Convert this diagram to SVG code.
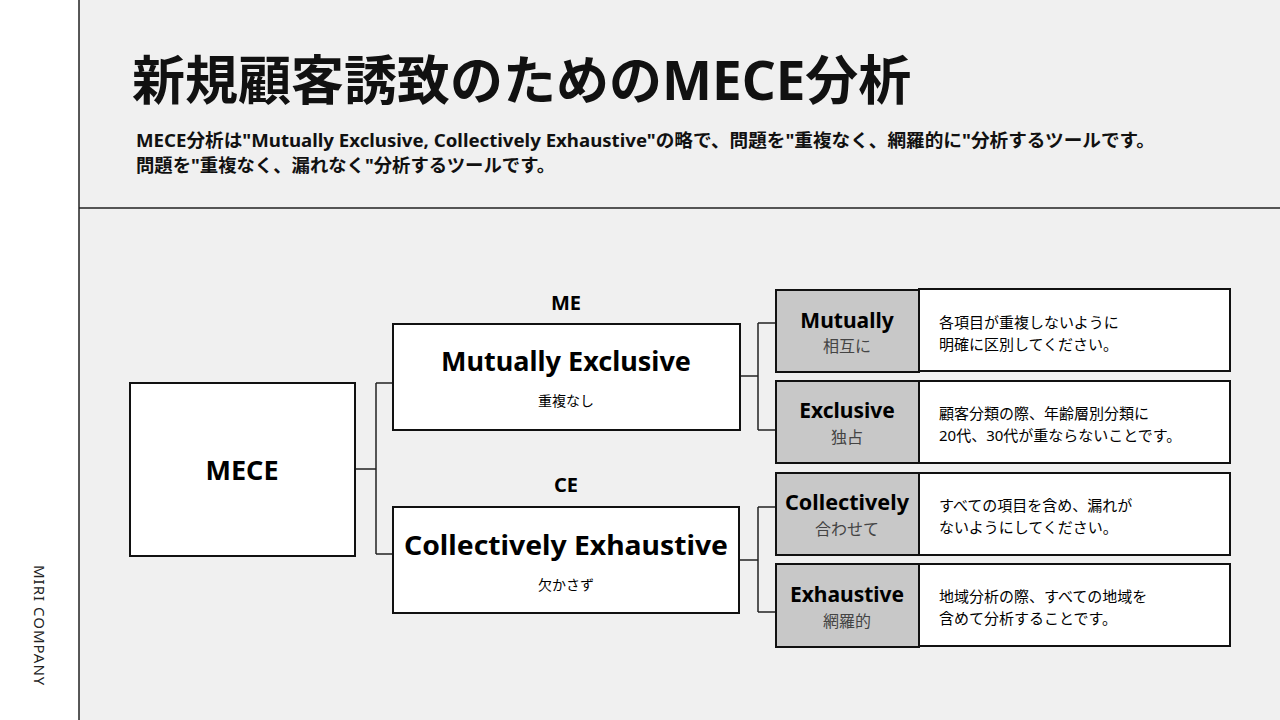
<svg xmlns="http://www.w3.org/2000/svg" width="1280" height="720" viewBox="0 0 1280 720">
<style>
.j{font-family:"Noto Sans","Noto Sans CJK JP",sans-serif}
.b{font-weight:700}
.box{fill:#fff;stroke:#111;stroke-width:2}
.g{fill:#c8c8c8;stroke:#111;stroke-width:2}
.c{fill:none;stroke:#222;stroke-width:1.5}
</style>
<rect width="1280" height="720" fill="#f0f0f0"/>
<rect width="79" height="720" fill="#fff"/>
<line x1="79" y1="0" x2="79" y2="720" stroke="#222" stroke-width="1.5"/>
<line x1="79" y1="208" x2="1280" y2="208" stroke="#222" stroke-width="1.5"/>
<text class="j" transform="translate(34,565) rotate(90)" font-size="15" fill="#222" letter-spacing="1">MIRI COMPANY</text>
<text class="j b" x="132" y="100" font-size="53" fill="#111">新規顧客誘致のためのMECE分析</text>
<text class="j b" x="136" y="147" font-size="18.3" fill="#111" textLength="1019" lengthAdjust="spacingAndGlyphs">MECE分析は"Mutually Exclusive, Collectively Exhaustive"の略で、問題を"重複なく、網羅的に"分析するツールです。</text>
<text class="j b" x="136" y="172" font-size="18.3" fill="#111" textLength="419" lengthAdjust="spacingAndGlyphs">問題を"重複なく、漏れなく"分析するツールです。</text>
<g id="connectors">
<path class="c" d="M355,469H376M376,383V554M376,383H392M376,554H392"/>
<path class="c" d="M740,376H758M758,323V430M758,323H776M758,430H776"/>
<path class="c" d="M739,560H758M758,507V612M758,507H776M758,612H776"/>
</g>
<g id="mece"><rect class="box" x="130" y="383" width="225" height="173"/>
<text class="j b" x="242" y="480" font-size="27" text-anchor="middle">MECE</text></g>
<g id="me"><text class="j b" x="566" y="310" font-size="20" text-anchor="middle">ME</text>
<rect class="box" x="393" y="324" width="347" height="106"/>
<text class="j b" x="566" y="371" font-size="27" text-anchor="middle">Mutually Exclusive</text>
<text class="j" x="566" y="406" font-size="14" text-anchor="middle">重複なし</text></g>
<g id="ce"><text class="j b" x="566" y="492" font-size="20" text-anchor="middle">CE</text>
<rect class="box" x="393" y="507" width="346" height="106"/>
<text class="j b" x="566" y="555" font-size="27" text-anchor="middle" textLength="324" lengthAdjust="spacingAndGlyphs">Collectively Exhaustive</text>
<text class="j" x="566" y="590" font-size="14" text-anchor="middle">欠かさず</text></g>
<g id="mutually"><rect class="box" x="919" y="289" width="311" height="82"/><rect class="g" x="776" y="290" width="143" height="82"/>
<text class="j b" x="847" y="328" font-size="21" text-anchor="middle">Mutually</text>
<text class="j" x="847" y="352" font-size="16" fill="#444" text-anchor="middle">相互に</text>
<text class="j" x="939" y="328" font-size="15">各項目が重複しないように</text>
<text class="j" x="939" y="350" font-size="15">明確に区別してください。</text></g>
<g id="exclusive"><rect class="box" x="919" y="381" width="311" height="82"/><rect class="g" x="776" y="381" width="143" height="82"/>
<text class="j b" x="847" y="418" font-size="21" text-anchor="middle">Exclusive</text>
<text class="j" x="847" y="443" font-size="16" fill="#444" text-anchor="middle">独占</text>
<text class="j" x="939" y="419" font-size="15">顧客分類の際、年齢層別分類に</text>
<text class="j" x="939" y="441" font-size="15">20代、30代が重ならないことです。</text></g>
<g id="collectively"><rect class="box" x="919" y="473" width="311" height="82"/><rect class="g" x="776" y="473" width="143" height="82"/>
<text class="j b" x="847" y="510" font-size="21" text-anchor="middle" textLength="124" lengthAdjust="spacingAndGlyphs">Collectively</text>
<text class="j" x="847" y="535" font-size="16" fill="#444" text-anchor="middle">合わせて</text>
<text class="j" x="939" y="511" font-size="15">すべての項目を含め、漏れが</text>
<text class="j" x="939" y="533" font-size="15">ないようにしてください。</text></g>
<g id="exhaustive"><rect class="box" x="919" y="564" width="311" height="82"/><rect class="g" x="776" y="564" width="143" height="83"/>
<text class="j b" x="847" y="602" font-size="21" text-anchor="middle">Exhaustive</text>
<text class="j" x="847" y="627" font-size="16" fill="#444" text-anchor="middle">網羅的</text>
<text class="j" x="939" y="602" font-size="15">地域分析の際、すべての地域を</text>
<text class="j" x="939" y="624" font-size="15">含めて分析することです。</text></g>
</svg>
